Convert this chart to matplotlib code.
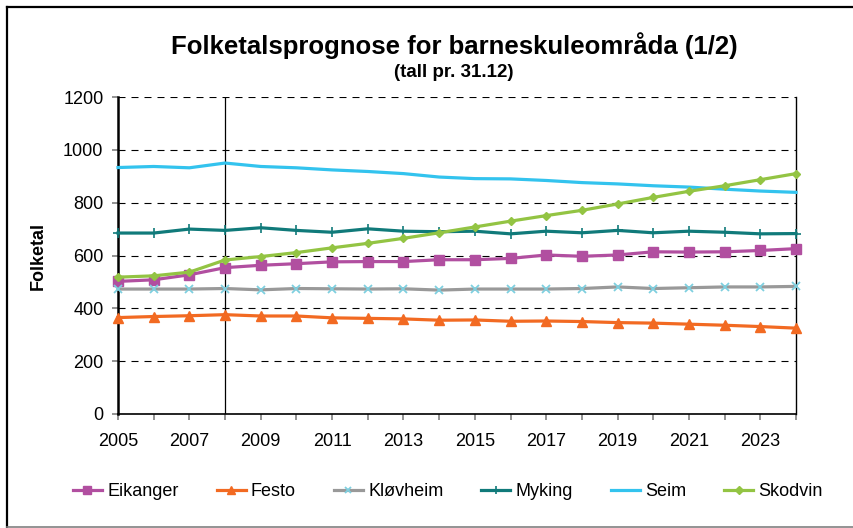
import matplotlib
matplotlib.use("Agg")
import matplotlib.pyplot as plt
from matplotlib.lines import Line2D

plt.rcParams['font.family'] = ['Liberation Sans', 'DejaVu Sans']

years = list(range(2005, 2025))

eikanger = [502, 508, 527, 554, 563, 569, 576, 577, 577, 584,
            584, 589, 602, 597, 602, 614, 613, 614, 619, 626]
festo = [365, 369, 372, 376, 371, 371, 364, 362, 360, 355,
         356, 351, 352, 350, 346, 344, 340, 336, 331, 325]
klovheim = [473, 473, 473, 475, 470, 475, 474, 473, 474, 469,
            473, 473, 473, 475, 481, 475, 478, 481, 481, 483]
myking = [685, 685, 700, 695, 705, 695, 688, 701, 692, 690,
          692, 682, 692, 686, 695, 686, 692, 688, 682, 683]
seim = [933, 937, 932, 950, 937, 932, 924, 918, 910, 897,
        891, 890, 884, 876, 871, 864, 859, 851, 844, 839]
skodvin = [518, 523, 537, 583, 596, 611, 629, 646, 665, 686,
           708, 730, 751, 771, 795, 820, 843, 864, 887, 910]

fig = plt.figure(figsize=(8.54, 5.28), dpi=100)
ax = fig.add_axes([118/854, 1 - 414/528, (796 - 118)/854, (414 - 97)/528])

lw = 2.3
ax.plot(years, eikanger, color='#B14FA0', lw=lw, marker='s', ms=6.5, label='Eikanger', clip_on=False, zorder=5)
ax.plot(years, festo, color='#F26A22', lw=lw, marker='^', ms=6.5, label='Festo', clip_on=False, zorder=5)
ax.plot(years, klovheim, color='#999999', lw=lw, marker='x', ms=6, mec='#7ECFDF', mew=1.3,
        label='Kløvheim', clip_on=False, zorder=5)
ax.plot(years, myking, color='#107A7A', lw=lw, marker='+', ms=7, mew=1.2, label='Myking', clip_on=False, zorder=5)
ax.plot(years, seim, color='#33C3EE', lw=lw, label='Seim', clip_on=False, zorder=5)
ax.plot(years, skodvin, color='#93C443', lw=lw, marker='D', ms=4.5, label='Skodvin', clip_on=False, zorder=5)

ax.axvline(2008, color='black', lw=0.9, zorder=4)

ax.set_xlim(2005, 2024)
ax.set_ylim(0, 1200)
ax.set_yticks(range(0, 1201, 200))
ax.set_xticks(years)
ax.set_xticklabels([str(y) if y % 2 == 1 else '' for y in years])
ax.yaxis.grid(True, linestyle=(0, (6.3, 5.4)), color='black', lw=0.8)
ax.set_axisbelow(True)

ax.spines['top'].set_visible(False)
ax.spines['left'].set_linewidth(1.8)
ax.spines['bottom'].set_linewidth(1.2)
ax.spines['right'].set_linewidth(1.0)
ax.tick_params(axis='both', direction='out', color='#808080', length=4.5, width=1.2, labelsize=13)
ax.tick_params(axis='y', pad=6)
ax.tick_params(axis='x', pad=9)

ax.set_ylabel('Folketal', fontsize=13, fontweight='bold', labelpad=12)

fig.text(454/854, 1 - 46/528, 'Folketalsprognose for barneskuleområda (1/2)',
         ha='center', va='center', fontsize=18.5, fontweight='bold')
fig.text(454/854, 1 - 73/528, '(tall pr. 31.12)',
         ha='center', va='center', fontsize=13.5, fontweight='bold')

fig.legend(loc='center', bbox_to_anchor=(448/854, 1 - 492/528), ncol=6, frameon=False,
           fontsize=13, handlelength=1.6, handletextpad=0.3, columnspacing=2.1, markerscale=0.8)

# outer frame: left, top and bottom edges only
fx0, fy0, fy1 = 7/854, 1/528, 1 - 7/528
fig.lines.append(Line2D([fx0, fx0], [fy0, fy1], transform=fig.transFigure, color='black', lw=1.6))
fig.lines.append(Line2D([fx0, 1], [fy1, fy1], transform=fig.transFigure, color='black', lw=1.6))
fig.lines.append(Line2D([fx0, 1], [fy0, fy0], transform=fig.transFigure, color='#808080', lw=1.2))

fig.savefig('out.png', dpi=100)
